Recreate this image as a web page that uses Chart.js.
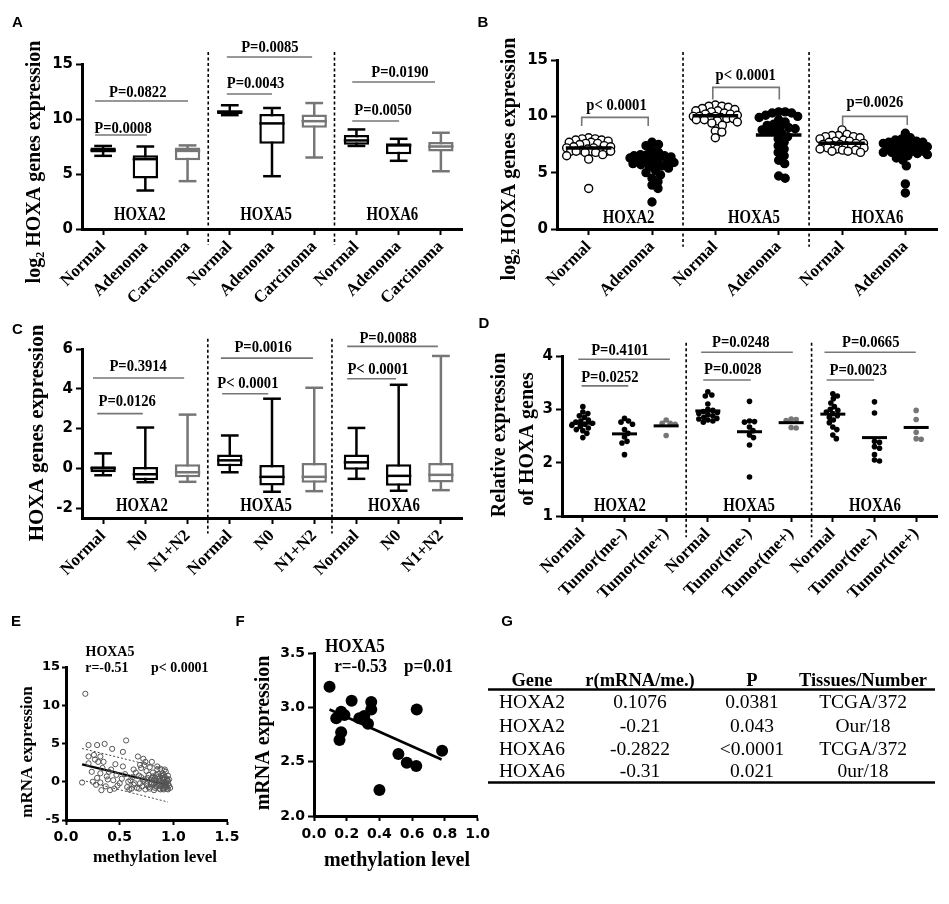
<!DOCTYPE html>
<html>
<head>
<meta charset="utf-8">
<script src="https://cdn.jsdelivr.net/npm/chart.js@4.4.0/dist/chart.umd.min.js"></script>
<style>
body { margin: 0; background: #fff; width: 949px; height: 904px; position: relative; overflow: hidden; }
.p { position: absolute; }
</style>
</head>
<body>
<div class="p" style="left:0;top:300px"><canvas id="cC" width="475" height="300"></canvas></div>
<div class="p" style="left:475px;top:300px"><canvas id="cD" width="474" height="320"></canvas></div>
<div class="p" style="left:0;top:0"><canvas id="cA" width="475" height="320"></canvas></div>
<div class="p" style="left:475px;top:0"><canvas id="cB" width="474" height="320"></canvas></div>
<div class="p" style="left:0;top:600px"><canvas id="cE" width="245" height="300"></canvas></div>
<div class="p" style="left:225px;top:600px"><canvas id="cF" width="270" height="300"></canvas></div>
<div class="p" style="left:480px;top:600px"><canvas id="cG" width="469" height="300"></canvas></div>
<script>
// ---- data ----
const genes = ['HOXA2', 'HOXA5', 'HOXA6'];

// A: box plots [min, q1, median, q3, max]
const aLabels = ['Normal', 'Adenoma', 'Carcinoma', 'Normal', 'Adenoma', 'Carcinoma', 'Normal', 'Adenoma', 'Carcinoma'];
const aBoxes = [
  [6.65, 6.95, 7.15, 7.4, 7.55],
  [3.5, 4.6, 6.35, 6.7, 7.5],
  [4.35, 6.25, 7.1, 7.4, 7.6],
  [10.35, 10.45, 10.65, 10.8, 11.25],
  [4.8, 7.75, 9.6, 10.45, 11.0],
  [6.5, 9.2, 9.8, 10.4, 11.45],
  [7.55, 7.65, 8.05, 8.55, 9.05],
  [6.2, 6.8, 7.6, 7.8, 8.2],
  [5.25, 7.05, 7.5, 7.9, 8.75]
];
const aPvalues = ['P=0.0008', 'P=0.0822', 'P=0.0043', 'P=0.0085', 'P=0.0050', 'P=0.0190'];

// B: dot plots
const bLabels = ['Normal', 'Adenoma', 'Normal', 'Adenoma', 'Normal', 'Adenoma'];
const bNormalA2 = [8.1, 8.0, 8.0, 7.9, 7.9, 7.8, 7.7, 7.7, 7.6, 7.6, 7.5, 7.4, 7.3, 7.3, 7.2, 7.2, 7.1, 7.0, 7.0, 6.9, 6.9, 6.9, 6.9, 6.9, 6.8, 6.8, 6.6, 6.5, 6.2, 3.6];
const bAdenomaA2 = [7.7, 7.5, 7.4, 7.0, 6.8, 6.6, 6.6, 6.5, 6.5, 6.4, 6.4, 6.3, 6.3, 6.2, 6.2, 6.1, 6.0, 5.9, 5.8, 5.8, 5.7, 5.6, 5.5, 5.4, 5.2, 5.0, 4.8, 4.5, 4.2, 3.9, 3.6, 2.4];
const bNormalA5 = [11.0, 10.9, 10.9, 10.8, 10.7, 10.6, 10.5, 10.5, 10.4, 10.3, 10.2, 10.2, 10.1, 10.0, 10.0, 10.0, 9.9, 9.9, 9.8, 9.8, 9.7, 9.7, 9.6, 9.5, 9.4, 9.2, 8.7, 8.6, 8.1];
const bAdenomaA5 = [10.4, 10.4, 10.3, 10.3, 10.1, 10.0, 9.9, 9.7, 9.5, 9.3, 9.2, 9.1, 9.0, 8.9, 8.8, 8.7, 8.7, 8.5, 8.2, 8.0, 7.7, 7.4, 7.1, 6.8, 6.5, 6.1, 5.8, 4.7, 4.5];
const bNormalA6 = [8.8, 8.4, 8.3, 8.3, 8.2, 8.2, 8.1, 8.0, 7.9, 7.8, 7.8, 7.7, 7.6, 7.6, 7.5, 7.5, 7.4, 7.4, 7.3, 7.3, 7.2, 7.2, 7.1, 7.1, 7.0, 7.0, 6.9, 6.9, 6.8];
const bAdenomaA6 = [8.5, 8.1, 8.0, 7.9, 7.8, 7.7, 7.7, 7.6, 7.6, 7.5, 7.5, 7.4, 7.3, 7.2, 7.1, 7.0, 7.0, 6.9, 6.9, 6.8, 6.8, 6.7, 6.7, 6.6, 6.5, 6.3, 6.1, 5.6, 4.0, 3.2];
const bMeans = [7.2, 5.8, 10.05, 8.35, 7.62, 6.9];
const bPvalues = ['p< 0.0001', 'p< 0.0001', 'p=0.0026'];

// C: box plots [min, q1, median, q3, max]
const cLabels = ['Normal', 'N0', 'N1+N2', 'Normal', 'N0', 'N1+N2', 'Normal', 'N0', 'N1+N2'];
const cBoxes = [
  [-0.35, -0.2, 0.0, 0.1, 0.75],
  [-0.7, -0.6, -0.3, 0.07, 2.05],
  [-0.68, -0.45, -0.2, 0.2, 2.7],
  [-0.2, 0.1, 0.4, 0.7, 1.65],
  [-1.18, -0.87, -0.43, 0.17, 3.5],
  [-1.15, -0.73, -0.43, 0.27, 4.05],
  [-0.53, -0.07, 0.3, 0.7, 2.03],
  [-1.13, -0.88, -0.38, 0.2, 4.2],
  [-1.1, -0.72, -0.33, 0.27, 5.65]
];
const cPvalues = ['P=0.0126', 'P=0.3914', 'P< 0.0001', 'P=0.0016', 'P< 0.0001', 'P=0.0088'];

// D: dot plots
const dLabels = ['Normal', 'Tumor(me-)', 'Tumor(me+)', 'Normal', 'Tumor(me-)', 'Tumor(me+)', 'Normal', 'Tumor(me-)', 'Tumor(me+)'];
const dNormalA2 = [3.05, 2.95, 2.92, 2.88, 2.85, 2.80, 2.78, 2.76, 2.74, 2.72, 2.70, 2.68, 2.65, 2.62, 2.60, 2.55, 2.47];
const dMinusA2 = [2.83, 2.78, 2.76, 2.72, 2.62, 2.55, 2.48, 2.40, 2.37, 2.15];
const dPlusA2 = [2.80, 2.74, 2.74, 2.72, 2.51];
const dNormalA5 = [3.33, 3.27, 3.25, 3.10, 3.00, 2.98, 2.96, 2.94, 2.92, 2.90, 2.88, 2.85, 2.83, 2.82, 2.80, 2.78, 2.76];
const dMinusA5 = [3.15, 2.78, 2.77, 2.76, 2.67, 2.60, 2.52, 2.47, 2.33, 1.73];
const dPlusA5 = [2.82, 2.81, 2.79, 2.66, 2.65];
const dNormalA6 = [3.29, 3.25, 3.20, 3.12, 3.05, 3.00, 2.98, 2.95, 2.92, 2.88, 2.85, 2.80, 2.75, 2.67, 2.62, 2.52, 2.45];
const dMinusA6 = [3.14, 2.93, 2.40, 2.38, 2.30, 2.27, 2.15, 2.05, 2.03];
const dPlusA6 = [2.98, 2.81, 2.57, 2.45, 2.44];
const dMeans = [2.74, 2.54, 2.69, 2.97, 2.58, 2.75, 2.91, 2.47, 2.66];
const dPvalues = ['P=0.0252', 'P=0.4101', 'P=0.0028', 'P=0.0248', 'P=0.0023', 'P=0.0665'];

// E: methylation vs mRNA (TCGA)
const ePoints = [
  [0.18, 11.5], [0.21, 4.8], [0.29, 4.8], [0.36, 4.95], [0.43, 4.3], [0.56, 5.4], [0.53, 3.9], [0.15, -0.1],
  [0.25, 0.0], [0.32, -0.1], [0.33, -1.1], [0.41, -1.1], [0.21, 3.3], [0.26, 3.5], [0.32, 3.3], [0.30, 2.6],
  [0.21, 2.4], [0.35, 2.6], [0.46, 2.3], [0.53, 2.0], [0.24, 1.3], [0.32, 1.1], [0.40, 1.3], [0.47, 0.9],
  [0.38, 0.7], [0.29, 0.5], [0.44, 0.2], [0.50, -0.2], [0.57, -0.7], [0.27, 2.9], [0.34, 1.8], [0.42, 1.6],
  [0.37, -0.6], [0.45, -0.9], [0.48, -0.5], [0.52, 0.4], [0.55, 1.0], [0.58, 0.0], [0.28, -0.4], [0.39, 0.3],
  [0.61, -0.9], [0.63, -0.4], [0.67, 3.3], [0.72, 3.0], [0.80, 2.6], [0.88, 1.7], [0.92, 1.6], [0.60, 0.2],
  [0.69, -0.2], [0.65, 1.2], [0.68, 0.8], [0.70, 1.8], [0.73, 2.2], [0.75, 1.4], [0.76, 0.5], [0.78, 1.9],
  [0.79, -0.3], [0.81, 1.2], [0.82, 0.2], [0.83, -0.8], [0.84, 0.9], [0.85, 1.6], [0.86, -0.5], [0.87, 0.4],
  [0.88, -1.0], [0.89, 0.8], [0.90, -0.2], [0.90, 1.1], [0.91, 0.3], [0.91, -0.8], [0.92, 0.6], [0.92, -0.4],
  [0.93, 0.0], [0.93, 1.3], [0.94, -0.9], [0.94, 0.4], [0.95, -0.3], [0.95, 0.8], [0.71, -0.6], [0.74, -1.0],
  [0.77, -0.7], [0.66, -0.8], [0.62, 0.6], [0.64, -0.2], [0.73, 0.3], [0.75, -0.3], [0.77, 0.9], [0.80, -0.1],
  [0.82, -1.1], [0.84, 0.0], [0.86, 0.6], [0.87, -0.9], [0.88, 0.2], [0.89, -0.6], [0.90, 0.5], [0.91, -1.0],
  [0.92, -0.1], [0.93, -0.7], [0.94, 0.2], [0.95, -1.0], [0.85, -0.2], [0.83, 0.5], [0.81, 0.7], [0.79, 0.3],
  [0.76, -0.5], [0.72, 0.1], [0.70, 0.6], [0.68, -0.9], [0.86, 1.0], [0.89, -0.1], [0.91, 0.9], [0.93, -0.3],
  [0.94, -0.6], [0.95, 0.1], [0.90, -0.9], [0.88, -0.4], [0.87, 0.1], [0.84, -0.6], [0.82, -0.3], [0.80, 0.5],
  [0.78, -0.9], [0.96, -0.5], [0.96, 0.3], [0.85, 2.0], [0.74, 2.6], [0.69, 2.2], [0.63, 1.6], [0.59, -1.0],
  [0.97, -0.8]
];
const eFitX = [0.15, 0.95];
const eFitY = [2.27, -0.42];
const eUpperY = [4.35, 1.6];
const eLowerY = [0.2, -2.65];

// F: methylation vs mRNA (our 18 samples)
const fMeth = [0.095, 0.23, 0.35, 0.35, 0.166, 0.136, 0.186, 0.166, 0.156, 0.277, 0.307, 0.33, 0.628, 0.516, 0.567, 0.625, 0.783, 0.40];
const fExpr = [3.19, 3.06, 3.05, 2.98, 2.96, 2.90, 2.93, 2.77, 2.70, 2.90, 2.92, 2.85, 2.98, 2.57, 2.49, 2.46, 2.60, 2.24];
const fFitX = [0.095, 0.78];
const fFitY = [2.98, 2.52];

// G: table
const gHeader = ['Gene', 'r(mRNA/me.)', 'P', 'Tissues/Number'];
const gRows = [
  ['HOXA2', '0.1076', '0.0381', 'TCGA/372'],
  ['HOXA2', '-0.21', '0.043', 'Our/18'],
  ['HOXA6', '-0.2822', '<0.0001', 'TCGA/372'],
  ['HOXA6', '-0.31', '0.021', '0ur/18']
];

// ---- helpers ----
const SERIF = 'Liberation Serif';
const SANS = 'DejaVu Sans';
const GRAY = '#767676';

function txt(ctx, s, x, y, o) {
  ctx.save();
  ctx.font = (o.bold === false ? '' : 'bold ') + o.size + 'px ' + (o.family || SERIF);
  ctx.fillStyle = o.color || '#000';
  ctx.textAlign = o.align || 'center';
  ctx.textBaseline = o.baseline || 'alphabetic';
  ctx.translate(x, y);
  if (o.rot) ctx.rotate(o.rot);
  ctx.scale(o.sx || 1, 1);
  ctx.fillText(s, 0, 0);
  ctx.restore();
}

function line(ctx, pts, color, width, dash) {
  ctx.save();
  ctx.strokeStyle = color;
  ctx.lineWidth = width;
  if (dash) ctx.setLineDash(dash);
  ctx.beginPath();
  pts.forEach((p, i) => i ? ctx.lineTo(p[0], p[1]) : ctx.moveTo(p[0], p[1]));
  ctx.stroke();
  ctx.restore();
}

// place dots side by side (GraphPad style scatter); gap = wanted centre distance, cap = max half width (px)
function swarm(values, center, pxX, pxY, gap, cap) {
  const placed = [];
  const out = [];
  values.slice().sort((a, b) => b - a).forEach(v => {
    const py = v * pxY;
    let off = null, bestOff = 0, bestD = -1;
    for (let k = 0; k <= cap * 4 + 1; k++) {
      const cand = (k % 2 ? 1 : -1) * Math.ceil(k / 2) * 0.5;
      if (Math.abs(cand) > cap) break;
      let d = Infinity;
      placed.forEach(p => { d = Math.min(d, Math.hypot(cand - p[0], py - p[1])); });
      if (d >= gap) { off = cand; break; }
      if (d > bestD + 0.01) { bestD = d; bestOff = cand; }
    }
    if (off === null) off = bestOff;
    placed.push([off, py]);
    out.push({x: center + off / pxX, y: v});
  });
  return out;
}

function yAxis(min, max, ticks, width, size, fmt) {
  return {
    type: 'linear', min: min, max: max,
    afterBuildTicks: s => { s.ticks = ticks.map(v => ({value: v})); },
    ticks: {color: '#000', padding: 3, font: {family: SANS, weight: 'bold', size: size}, callback: fmt || (v => String(v))},
    grid: {display: true, drawOnChartArea: false, drawTicks: true, tickLength: 6, tickWidth: 2, color: '#000'},
    border: {display: true, width: 3, color: '#000'},
    afterFit: s => { s.width = width; }
  };
}

function xLabelAxis(labels, height, linear) {
  const ax = {
    ticks: {color: '#000', autoSkip: false, minRotation: 45, maxRotation: 45, padding: 2, font: {family: SERIF, weight: 'bold', size: 17}},
    grid: {display: true, offset: false, drawOnChartArea: false, drawTicks: true, tickLength: 6, tickWidth: 2, color: '#000'},
    border: {display: true, width: 3, color: '#000'},
    afterFit: s => { s.height = height; }
  };
  if (linear) {
    ax.type = 'linear';
    ax.min = -0.5;
    ax.max = labels.length - 0.5;
    ax.afterBuildTicks = s => { s.ticks = labels.map((l, i) => ({value: i})); };
    ax.ticks.callback = v => labels[v];
  } else {
    ax.type = 'category';
    ax.labels = labels;
    ax.offset = true;
  }
  return ax;
}

function baseOptions(top, right, x, y) {
  return {
    responsive: false, animation: false, events: [],
    layout: {padding: {top: top, right: right, left: 0, bottom: 0}},
    plugins: {legend: {display: false}, tooltip: {enabled: false}},
    scales: {x: x, y: y}
  };
}

// whiskers + medians for floating-bar boxes
function boxPlugin(boxes, colors) {
  return {
    id: 'boxes',
    beforeDatasetsDraw(chart) {
      const ctx = chart.ctx, xs = chart.scales.x, ys = chart.scales.y;
      const bars = chart.getDatasetMeta(0).data;
      boxes.forEach((b, i) => {
        const x = xs.getPixelForValue(i), cap = bars[i].width * 0.35;
        line(ctx, [[x, ys.getPixelForValue(b[0])], [x, ys.getPixelForValue(b[4])]], colors[i], 2.5);
        line(ctx, [[x - cap, ys.getPixelForValue(b[0])], [x + cap, ys.getPixelForValue(b[0])]], colors[i], 2.5);
        line(ctx, [[x - cap, ys.getPixelForValue(b[4])], [x + cap, ys.getPixelForValue(b[4])]], colors[i], 2.5);
      });
    },
    afterDatasetsDraw(chart) {
      const ctx = chart.ctx, xs = chart.scales.x, ys = chart.scales.y;
      const bars = chart.getDatasetMeta(0).data;
      boxes.forEach((b, i) => {
        const x = xs.getPixelForValue(i), h = bars[i].width / 2;
        line(ctx, [[x - h, ys.getPixelForValue(b[2])], [x + h, ys.getPixelForValue(b[2])]], colors[i], 2.5);
      });
    }
  };
}

function meanPlugin(means, half, width) {
  return {
    id: 'means',
    afterDatasetsDraw(chart) {
      const xs = chart.scales.x, ys = chart.scales.y;
      means.forEach((m, i) => {
        const y = ys.getPixelForValue(m);
        line(chart.ctx, [[xs.getPixelForValue(i - half), y], [xs.getPixelForValue(i + half), y]], '#000', width);
      });
    }
  };
}

// separators, p-value bars, gene names, axis titles, panel letter
function decoPlugin(cfg) {
  return {
    id: 'deco',
    afterDraw(chart) {
      const ctx = chart.ctx, xs = chart.scales.x, ys = chart.scales.y;
      const X = v => xs.getPixelForValue(v), Y = v => ys.getPixelForValue(v);
      (cfg.seps || []).forEach(s => line(ctx, [[X(s), Y(cfg.sepFrom)], [X(s), Y(cfg.sepTo)]], '#000', 1.6, [3, 2.5]));
      (cfg.bars || []).forEach(b => {
        if (b.length === 4) line(ctx, [[X(b[0]), Y(b[3])], [X(b[0]), Y(b[2])], [X(b[1]), Y(b[2])], [X(b[1]), Y(b[3])]], GRAY, 1.6);
        else line(ctx, [[X(b[0]), Y(b[2])], [X(b[1]), Y(b[2])]], GRAY, 1.6);
      });
      (cfg.pText || []).forEach((p, i) => txt(ctx, cfg.pvals[i], X(p[0]), Y(p[1]), {size: cfg.pSize || 17, sx: cfg.pSx || 0.86}));
      (cfg.groups || []).forEach((g, i) => txt(ctx, genes[i], X(g), Y(cfg.groupY), {size: 19, sx: 0.78}));
      (cfg.notes || []).forEach(n => txt(ctx, n[0], X(n[1]), Y(n[2]), {size: cfg.noteSize, sx: cfg.noteSx}));
      (cfg.titles || []).forEach(t => txt(ctx, t[0], t[1], t[2], {size: t[3], rot: t[4] ? -Math.PI / 2 : 0, baseline: t[4] ? 'middle' : 'alphabetic'}));
      if (cfg.logTitle) logTitle(ctx, cfg.logTitle[0], cfg.logTitle[1], 20);
      txt(ctx, cfg.letter[0], cfg.letter[1], cfg.letter[2], {size: 15, family: 'Liberation Sans', baseline: 'middle'});
    }
  };
}

function logTitle(ctx, x, y, size) {
  const f1 = 'bold ' + size + 'px ' + SERIF, f2 = 'bold ' + Math.round(size * 0.62) + 'px ' + SERIF;
  const rest = ' HOXA genes expression';
  ctx.save();
  ctx.translate(x, y);
  ctx.rotate(-Math.PI / 2);
  ctx.fillStyle = '#000';
  ctx.textBaseline = 'middle';
  ctx.textAlign = 'left';
  ctx.font = f1;
  const w1 = ctx.measureText('log').width, w3 = ctx.measureText(rest).width;
  ctx.font = f2;
  const w2 = ctx.measureText('2').width;
  let cx = -(w1 + w2 + w3) / 2;
  ctx.font = f1; ctx.fillText('log', cx, 0); cx += w1;
  ctx.font = f2; ctx.fillText('2', cx, size * 0.32); cx += w2;
  ctx.font = f1; ctx.fillText(rest, cx, 0);
  ctx.restore();
}

const triColors = ['#000', '#000', GRAY, '#000', '#000', GRAY, '#000', '#000', GRAY];

// ---- A ----
new Chart(document.getElementById('cA'), {
  type: 'bar',
  data: {labels: aLabels, datasets: [{
    data: aBoxes.map(b => [b[1], b[3]]),
    backgroundColor: '#fff', borderColor: triColors, borderWidth: 2.5, borderSkipped: false,
    barPercentage: 0.6, categoryPercentage: 1
  }]},
  options: baseOptions(64, 13, xLabelAxis(aLabels, 91), yAxis(0, 15, [0, 5, 10, 15], 82, 15)),
  plugins: [boxPlugin(aBoxes, triColors), decoPlugin({
    seps: [2.49, 5.48], sepFrom: 16.1, sepTo: -1.45,
    bars: [[-0.19, 1.04, 8.55], [-0.19, 2.01, 11.64], [2.93, 4.0, 12.27], [2.93, 4.95, 15.64], [5.9, 7.01, 9.82], [5.9, 7.86, 13.36]],
    pvals: aPvalues,
    pText: [[0.47, 8.75], [0.82, 12.03], [3.61, 12.79], [3.95, 16.06], [6.63, 10.36], [7.03, 13.85]],
    groups: [0.87, 3.86, 6.85], groupY: 0.82,
    logTitle: [35, 162],
    letter: ['A', 17.5, 22.5]
  })]
});

// ---- B ----
const bGroups = [bNormalA2, bAdenomaA2, bNormalA5, bAdenomaA5, bNormalA6, bAdenomaA6];
new Chart(document.getElementById('cB'), {
  type: 'scatter',
  data: {datasets: bGroups.map((vals, i) => ({
    data: swarm(vals, i, 63.33, 11.27, 6.5, 22),
    pointRadius: 4, pointBorderWidth: 1.4, pointBorderColor: '#000',
    pointBackgroundColor: i % 2 ? '#000' : '#fff'
  }))},
  options: baseOptions(60, 12, xLabelAxis(bLabels, 91, true), yAxis(0, 15, [0, 5, 10, 15], 82, 15)),
  plugins: [meanPlugin(bMeans, 0.36, 3.5), decoPlugin({
    seps: [1.49, 3.48], sepFrom: 15.7, sepTo: -1.57,
    bars: [[-0.11, 0.94, 9.91, 9.14], [1.96, 3.01, 12.57, 11.5], [4.01, 5.03, 10.0, 9.23]],
    pvals: bPvalues,
    pText: [[0.44, 10.56], [2.48, 13.22], [4.52, 10.8]],
    groups: [0.63, 2.61, 4.56], groupY: 0.56,
    logTitle: [35, 159],
    letter: ['B', 8, 22.5]
  })]
});

// ---- C ----
new Chart(document.getElementById('cC'), {
  type: 'bar',
  data: {labels: cLabels, datasets: [{
    data: cBoxes.map(b => [b[1], b[3]]),
    backgroundColor: '#fff', borderColor: triColors, borderWidth: 2.5, borderSkipped: false,
    barPercentage: 0.6, categoryPercentage: 1
  }]},
  options: baseOptions(49, 13, xLabelAxis(cLabels, 82), yAxis(-2.5, 6, [-2, 0, 2, 4, 6], 82, 15)),
  plugins: [boxPlugin(cBoxes, triColors), decoPlugin({
    seps: [2.48, 5.42], sepFrom: 6.52, sepTo: -3.28,
    bars: [[-0.14, 0.94, 2.75], [-0.24, 1.92, 4.54], [2.82, 3.91, 3.75], [2.79, 4.97, 5.54], [5.78, 6.94, 4.5], [5.78, 7.93, 6.13]],
    pvals: cPvalues,
    pText: [[0.57, 3.12], [0.83, 4.87], [3.43, 4.05], [3.79, 5.85], [6.51, 4.76], [6.75, 6.32]],
    groups: [0.92, 3.86, 6.89], groupY: -2.14,
    titles: [['HOXA genes expression', 38, 133, 21, true]],
    letter: ['C', 17.5, 30]
  })]
});

// ---- D ----
const dGroups = [dNormalA2, dMinusA2, dPlusA2, dNormalA5, dMinusA5, dPlusA5, dNormalA6, dMinusA6, dPlusA6];
new Chart(document.getElementById('cD'), {
  type: 'scatter',
  data: {datasets: dGroups.map((vals, i) => ({
    data: swarm(vals, i, 41.67, 53.33, 4.8, 13),
    pointRadius: 2.8, pointBorderWidth: 0,
    pointBackgroundColor: i % 3 === 2 ? GRAY : '#000', pointBorderColor: i % 3 === 2 ? GRAY : '#000'
  }))},
  options: baseOptions(56, 12, xLabelAxis(dLabels, 104, true), yAxis(1, 4, [1, 2, 3, 4], 87, 15)),
  plugins: [meanPlugin(dMeans, 0.3, 3), decoPlugin({
    seps: [2.48, 5.49], sepFrom: 4.25, sepTo: 0.6,
    bars: [[-0.03, 1.09, 3.44], [-0.11, 2.09, 3.94], [2.89, 4.03, 3.55], [2.84, 5.04, 4.07], [5.85, 6.99, 3.55], [5.8, 7.99, 4.07]],
    pvals: dPvalues,
    pText: [[0.65, 3.52], [0.89, 4.02], [3.6, 3.66], [3.79, 4.16], [6.61, 3.64], [6.91, 4.16]],
    groups: [0.89, 3.99, 7.01], groupY: 1.1,
    titles: [['Relative expression', 25, 135, 20, true], ['of HOXA genes', 53, 139, 20, true]],
    letter: ['D', 9, 24]
  })]
});

// ---- E ----
const eXAxis = {
  type: 'linear', min: 0, max: 1.5,
  afterBuildTicks: s => { s.ticks = [0, 0.5, 1, 1.5].map(v => ({value: v})); },
  ticks: {color: '#000', padding: 4, maxRotation: 0, font: {family: SANS, weight: 'bold', size: 14}, callback: v => v.toFixed(1)},
  grid: {display: true, drawOnChartArea: false, tickLength: 5, tickWidth: 2, color: '#000'},
  border: {display: true, width: 3, color: '#000'},
  afterFit: s => { s.height = 80; }
};
const eYAxis = yAxis(-5, 15, [-5, 0, 5, 10, 15], 66, 13);
eYAxis.grid.tickLength = 4;
eYAxis.ticks.padding = 2;
new Chart(document.getElementById('cE'), {
  type: 'scatter',
  data: {datasets: [
    {data: ePoints.map(p => ({x: p[0], y: p[1]})), pointRadius: 2.6, pointBorderWidth: 1, pointBorderColor: '#555', pointBackgroundColor: 'rgba(0,0,0,0)'},
    {data: eFitX.map((x, i) => ({x: x, y: eFitY[i]})), showLine: true, pointRadius: 0, borderColor: '#000', borderWidth: 2.2},
    {data: eFitX.map((x, i) => ({x: x, y: eUpperY[i]})), showLine: true, pointRadius: 0, borderColor: '#444', borderWidth: 1, borderDash: [2, 2]},
    {data: eFitX.map((x, i) => ({x: x, y: eLowerY[i]})), showLine: true, pointRadius: 0, borderColor: '#444', borderWidth: 1, borderDash: [2, 2]}
  ]},
  options: baseOptions(67, 18, eXAxis, eYAxis),
  plugins: [decoPlugin({
    notes: [['HOXA5', 0.41, 16.44], ['r=-0.51', 0.38, 14.35], ['p< 0.0001', 1.06, 14.35]], noteSize: 15, noteSx: 0.93,
    titles: [['mRNA expression', 28, 152, 17, true], ['methylation level', 155, 262, 17, false]],
    letter: ['E', 16, 22]
  })]
});

// ---- F ----
const fXAxis = {
  type: 'linear', min: 0, max: 1,
  afterBuildTicks: s => { s.ticks = [0, 0.2, 0.4, 0.6, 0.8, 1].map(v => ({value: v})); },
  ticks: {color: '#000', padding: 5, maxRotation: 0, font: {family: SANS, weight: 'bold', size: 14}, callback: v => v.toFixed(1)},
  grid: {display: true, drawOnChartArea: false, tickLength: 5, tickWidth: 2, color: '#000'},
  border: {display: true, width: 3, color: '#000'},
  afterFit: s => { s.height = 84; }
};
new Chart(document.getElementById('cF'), {
  type: 'scatter',
  data: {datasets: [
    {data: fMeth.map((x, i) => ({x: x, y: fExpr[i]})), pointRadius: 6, pointBorderWidth: 0, pointBackgroundColor: '#000'},
    {data: fFitX.map((x, i) => ({x: x, y: fFitY[i]})), showLine: true, pointRadius: 0, borderColor: '#000', borderWidth: 2.5}
  ]},
  options: baseOptions(53, 16, fXAxis, yAxis(2, 3.5, [2, 2.5, 3, 3.5], 89, 14, v => v.toFixed(1))),
  plugins: [decoPlugin({
    notes: [['HOXA5', 0.25, 3.51], ['r=-0.53', 0.285, 3.325], ['p=0.01', 0.70, 3.325]], noteSize: 18, noteSx: 0.95,
    titles: [['mRNA expression', 39, 133, 20, true], ['methylation level', 172, 266, 20, false]],
    letter: ['F', 15, 22]
  })]
});

// ---- G (table) ----
(function () {
  const ctx = document.getElementById('cG').getContext('2d');
  const cols = [52, 160, 272, 383];
  const rowBase = [108, 132, 155, 177];
  txt(ctx, 'G', 27, 22, {size: 15, family: 'Liberation Sans', baseline: 'middle'});
  gHeader.forEach((h, i) => txt(ctx, h, cols[i], 86, {size: 18.5}));
  line(ctx, [[8, 89.5], [455, 89.5]], '#000', 2.5);
  gRows.forEach((r, j) => r.forEach((c, i) => txt(ctx, c, cols[i], rowBase[j], {size: 19.5, bold: false})));
  line(ctx, [[8, 182.5], [455, 182.5]], '#000', 2.5);
})();
</script>
</body>
</html>
